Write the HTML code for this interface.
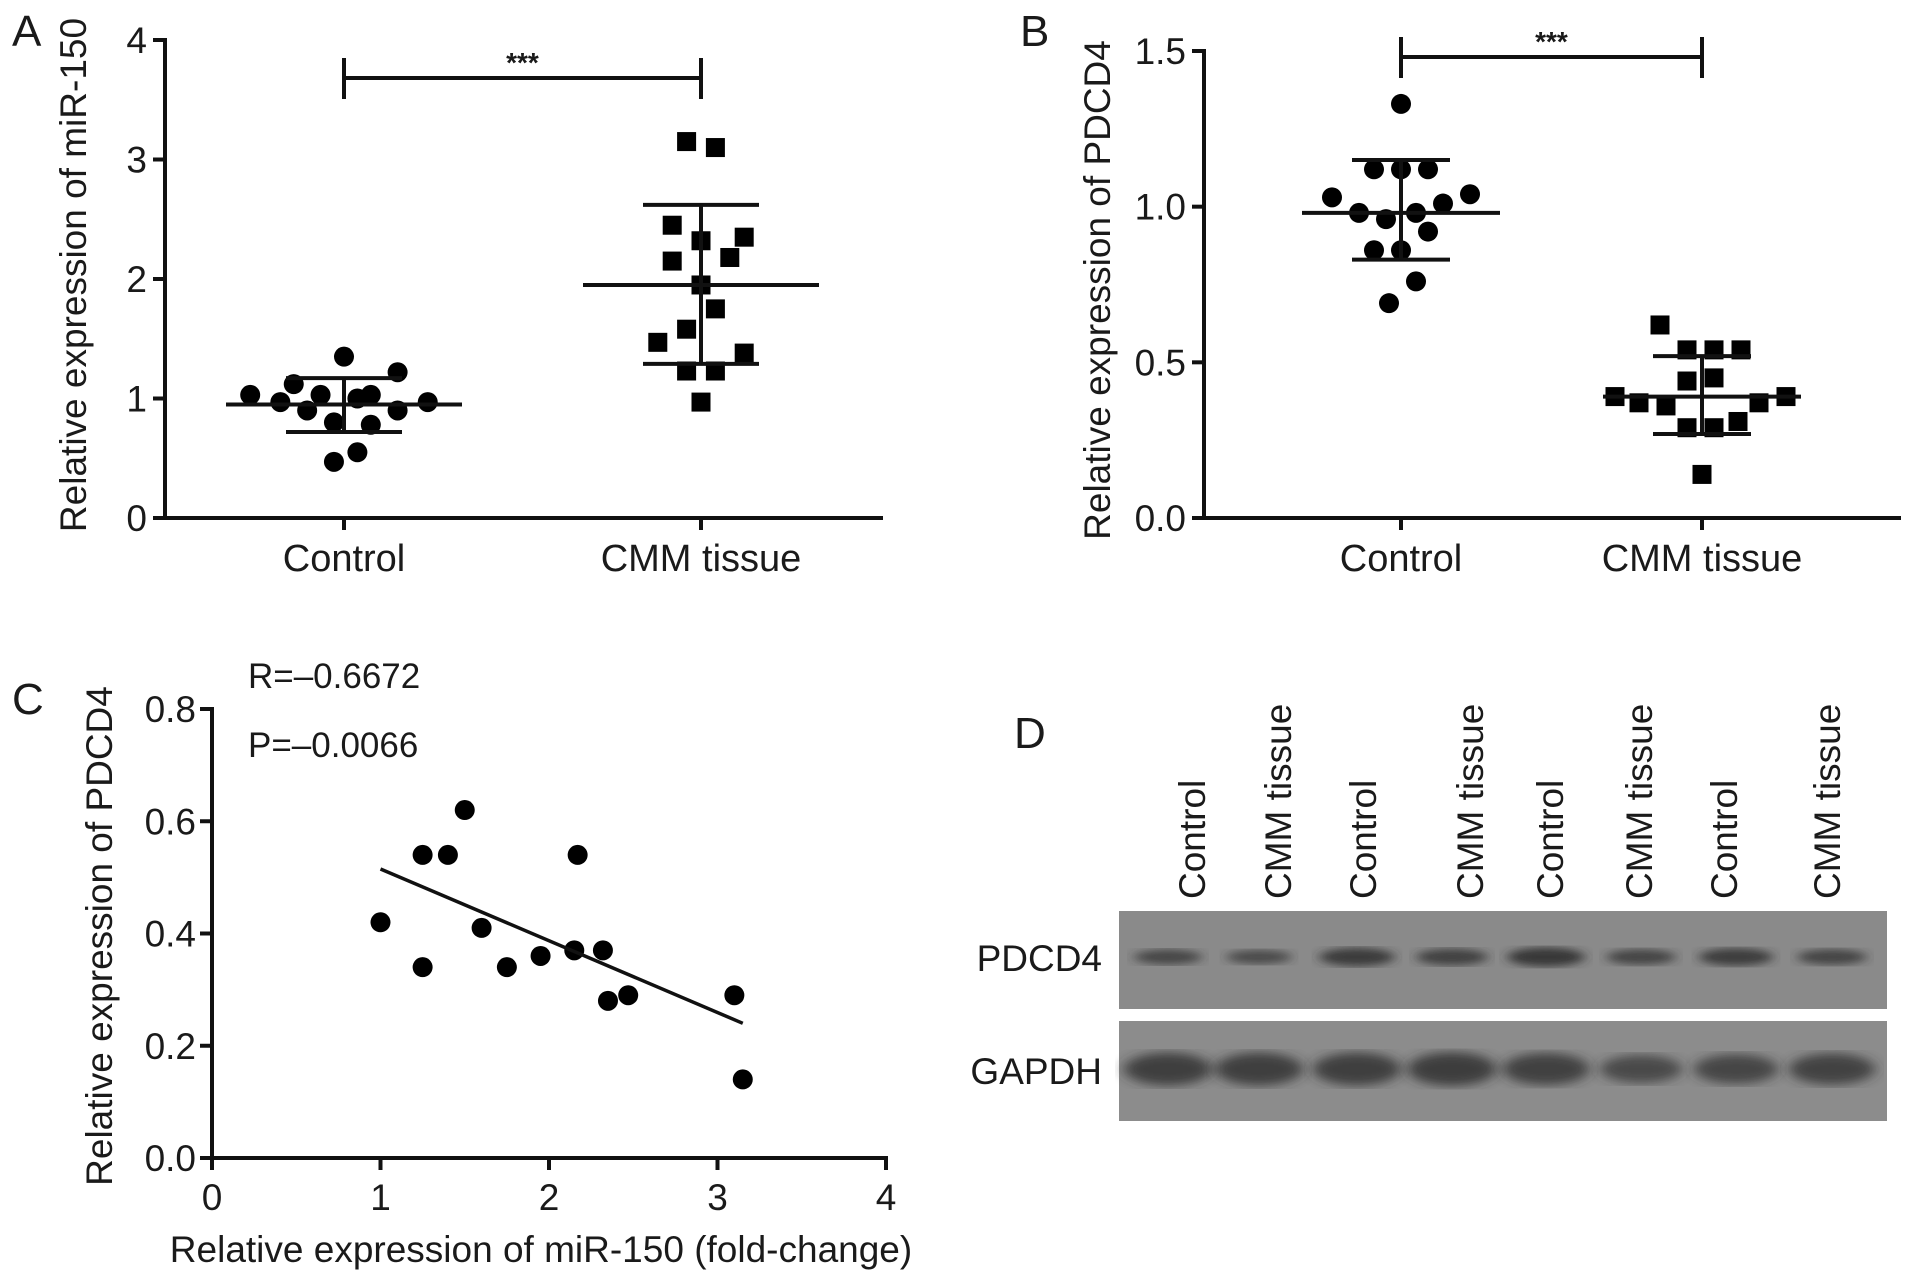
<!DOCTYPE html>
<html><head><meta charset="utf-8">
<style>
html,body{margin:0;padding:0;background:#fff;}
svg{display:block;font-family:"Liberation Sans",Arial,sans-serif;}
text{fill:#1a1a1a;}
</style></head>
<body>
<svg id="fig" width="1913" height="1277" viewBox="0 0 1913 1277">
<defs>
<filter id="blur3"><feGaussianBlur stdDeviation="7 5"/></filter>
<filter id="blur2"><feGaussianBlur stdDeviation="6 4"/></filter>
</defs>
<g id="panelA"></g>
<g id="panelB"></g>
<g id="panelC"></g>
<g id="panelD"></g>
</svg>
<script>
// ---- Panel A data ----
const aCategories = ["Control", "CMM tissue"];
const aYTicks = [0, 1, 2, 3, 4];
const aControlVals = [1.03,0.97,1.12,0.90,1.03,0.80,0.47,1.35,0.55,1.00,1.03,0.78,1.22,0.90,0.97];
const aControlJitter = [-0.28,-0.19,-0.15,-0.11,-0.07,-0.03,-0.03,0,0.04,0.04,0.08,0.08,0.16,0.16,0.25];
const aCmmVals = [3.15,3.10,2.45,2.32,2.35,2.15,2.18,1.95,1.75,1.58,1.47,1.38,1.23,1.23,0.97];
const aCmmJitter = [-0.04,0.04,-0.08,0,0.12,-0.08,0.08,0,0.04,-0.04,-0.12,0.12,-0.04,0.04,0];
const aStats = [[0.95,1.17,0.72],[1.95,2.62,1.29]];
// ---- Panel B data ----
const bCategories = ["Control", "CMM tissue"];
const bYTicks = [0.0, 0.5, 1.0, 1.5];
const bControlVals = [1.33,1.12,1.12,1.12,1.03,1.04,0.98,0.96,0.98,1.01,0.92,0.86,0.86,0.76,0.69];
const bControlJitter = [0,-0.09,0,0.09,-0.23,0.23,-0.14,-0.05,0.05,0.14,0.09,-0.09,0,0.05,-0.04];
const bCmmVals = [0.62,0.54,0.54,0.54,0.44,0.45,0.39,0.37,0.36,0.37,0.39,0.29,0.29,0.31,0.14];
const bCmmJitter = [-0.14,-0.05,0.04,0.13,-0.05,0.04,-0.29,-0.21,-0.12,0.19,0.28,-0.05,0.04,0.12,0];
const bStats = [[0.98,1.15,0.83],[0.39,0.52,0.27]];
// ---- Panel C data ----
const cXTicks = [0, 1, 2, 3, 4];
const cYTicks = [0.0, 0.2, 0.4, 0.6, 0.8];
const cX = [1.0,1.25,1.4,1.5,1.25,1.6,1.75,1.95,2.15,2.17,2.32,2.35,2.47,3.1,3.15];
const cY = [0.42,0.54,0.54,0.62,0.34,0.41,0.34,0.36,0.37,0.54,0.37,0.28,0.29,0.29,0.14];
const cFit = [[1.0,0.515],[3.15,0.24]];
// ---- Panel D data ----
const dLanes = ["Control","CMM tissue","Control","CMM tissue","Control","CMM tissue","Control","CMM tissue"];
const dPdcd4 = [0.5,0.4,0.8,0.65,0.9,0.55,0.75,0.55];
const dGapdh = [0.8,0.8,0.8,0.85,0.75,0.5,0.6,0.7];

const NS = "http://www.w3.org/2000/svg";
function mk(parent, tag, attrs, txt) {
  const e = document.createElementNS(NS, tag);
  for (const k in attrs) e.setAttribute(k, attrs[k]);
  if (txt !== undefined) e.textContent = txt;
  parent.appendChild(e);
  return e;
}
function line(p, x1, y1, x2, y2, w) { return mk(p, "line", {x1, y1, x2, y2, stroke: "#111", "stroke-width": w || 4}); }

function dotPlot(g, cfg) {
  const ymap = v => cfg.y0 + (v - cfg.ymin) / (cfg.ymax - cfg.ymin) * (cfg.y1 - cfg.y0);
  const ax = line(g, cfg.axX, cfg.y1 - 2, cfg.axX, cfg.y0 + 2);
  
  
  const xa = line(g, cfg.axX - 2, cfg.y0, cfg.axEnd, cfg.y0);
  
  
  cfg.yTicks.forEach(t => {
    const y = ymap(t);
    line(g, cfg.axX - 12, y, cfg.axX, y);
    const tx = mk(g, "text", {x: cfg.axX - 18, y: y + 13, "font-size": 37, "text-anchor": "end"}, cfg.fmt(t));
    
    
  });
  cfg.cats.forEach((c, i) => {
    line(g, cfg.catX[i], cfg.y0, cfg.catX[i], cfg.y0 + 12);
    const tx = mk(g, "text", {x: cfg.catX[i], y: cfg.y0 + 53, "font-size": 38, "text-anchor": "middle"}, c);
    
    
  });
  const yt = mk(g, "text", {x: 0, y: 0, "font-size": 37, "text-anchor": "middle", transform: `translate(${cfg.titleX},${cfg.titleY}) rotate(-90)`}, cfg.title);
  
  
  const sy = cfg.sigY;
  line(g, cfg.catX[0], sy, cfg.catX[1], sy);
  line(g, cfg.catX[0], sy - 20, cfg.catX[0], sy + 21);
  line(g, cfg.catX[1], sy - 20, cfg.catX[1], sy + 21);
  const st = mk(g, "text", {x: (cfg.catX[0] + cfg.catX[1]) / 2, y: sy - 6, "font-size": 28, "font-weight": "bold", "text-anchor": "middle"}, "***");
  
  
  cfg.series.forEach((s, i) => {
    s.vals.forEach((v, j) => {
      const x = cfg.catX[i] + s.jit[j] * cfg.jitScale[i], y = ymap(v);
      let el;
      if (s.shape === "circle") el = mk(g, "circle", {cx: x, cy: y, r: 10, fill: "#000"});
      else el = mk(g, "rect", {x: x - 9.5, y: y - 9.5, width: 19, height: 19, fill: "#000"});
      
      
    });
    const st = cfg.stats[i];
    const cx = cfg.catX[i];
    const m = line(g, cx - cfg.meanW, ymap(st[0]), cx + cfg.meanW, ymap(st[0]));
    
    
    line(g, cx - cfg.sdW, ymap(st[1]), cx + cfg.sdW, ymap(st[1]));
    line(g, cx - cfg.sdW, ymap(st[2]), cx + cfg.sdW, ymap(st[2]));
    const v = line(g, cx, ymap(st[1]), cx, ymap(st[2]));
    
    
  });
  const L = mk(g, "text", {x: cfg.letter[0], y: cfg.letter[1], "font-size": 44}, cfg.letter[2]);
  
  
}

dotPlot(document.getElementById("panelA"), {
  axX: 165, axEnd: 883, y0: 518, y1: 40, ymin: 0, ymax: 4, yTicks: aYTicks, fmt: t => String(t),
  cats: aCategories, catX: [344, 701], title: "Relative expression of miR-150", titleX: 86, titleY: 275,
  sigY: 78, jitScale: [335, 360], meanW: 118, sdW: 58, stats: aStats,
  series: [{vals: aControlVals, jit: aControlJitter, shape: "circle", name: "control"},
           {vals: aCmmVals, jit: aCmmJitter, shape: "square", name: "cmm"}],
  letter: [12, 46, "A"]
});
dotPlot(document.getElementById("panelB"), {
  axX: 1204, axEnd: 1901, y0: 518, y1: 51, ymin: 0, ymax: 1.5, yTicks: bYTicks, fmt: t => t.toFixed(1),
  cats: bCategories, catX: [1401, 1702], title: "Relative expression of PDCD4", titleX: 1110, titleY: 290,
  sigY: 57, jitScale: [300, 300], meanW: 99, sdW: 49, stats: bStats,
  series: [{vals: bControlVals, jit: bControlJitter, shape: "circle", name: "control"},
           {vals: bCmmVals, jit: bCmmJitter, shape: "square", name: "cmm"}],
  letter: [1020, 46, "B"]
});

// Panel C
(function () {
  const g = document.getElementById("panelC");
  const X0 = 212, X1 = 886, Y0 = 1158, Y1 = 709;
  const xm = v => X0 + v / 4 * (X1 - X0);
  const ym = v => Y0 + v / 0.8 * (Y1 - Y0);
  const ya = line(g, X0, Y0 + 2, X0, Y1 - 2);
  
  
  const xa = line(g, X0 - 2, Y0, X1 + 2, Y0);
  
  
  cYTicks.forEach(t => {
    line(g, X0 - 12, ym(t), X0, ym(t));
    const tx = mk(g, "text", {x: X0 - 16, y: ym(t) + 13, "font-size": 37, "text-anchor": "end"}, t.toFixed(1));
    
    
  });
  cXTicks.forEach(t => {
    line(g, xm(t), Y0, xm(t), Y0 + 12);
    const tx = mk(g, "text", {x: xm(t), y: Y0 + 52, "font-size": 37, "text-anchor": "middle"}, String(t));
    
    
  });
  cX.forEach((x, i) => {
    const c = mk(g, "circle", {cx: xm(x), cy: ym(cY[i]), r: 10, fill: "#000"});
    
    
  });
  const fl = mk(g, "line", {x1: xm(cFit[0][0]), y1: ym(cFit[0][1]), x2: xm(cFit[1][0]), y2: ym(cFit[1][1]), stroke: "#111", "stroke-width": 3.5});
  
  
  const xt = mk(g, "text", {x: 541, y: 1262, "font-size": 37, "text-anchor": "middle"}, "Relative expression of miR-150 (fold-change)");
  
  
  const yt = mk(g, "text", {x: 0, y: 0, "font-size": 37, "text-anchor": "middle", transform: "translate(112,936) rotate(-90)"}, "Relative expression of PDCD4");
  
  
  const r = mk(g, "text", {x: 248, y: 688, "font-size": 35}, "R=\u20130.6672");
  
  
  const p = mk(g, "text", {x: 248, y: 757, "font-size": 35}, "P=\u20130.0066");
  
  
  const L = mk(g, "text", {x: 12, y: 714, "font-size": 44}, "C");
  
  
})();

// Panel D
(function () {
  const g = document.getElementById("panelD");
  const laneX = [1168, 1259, 1357, 1452, 1546, 1641, 1736, 1832];
  const labelX = [1192, 1278, 1363, 1470, 1550, 1639, 1724, 1827];
  const b1 = mk(g, "rect", {x: 1119, y: 911, width: 768, height: 98, fill: "#8a8a8a"});
  
  
  const b2 = mk(g, "rect", {x: 1119, y: 1021, width: 768, height: 100, fill: "#8c8c8c"});
  
  
  dLanes.forEach((lab, i) => {
    const t = mk(g, "text", {x: 0, y: 0, "font-size": 37, "text-anchor": "start", transform: `translate(${labelX[i] + 13},899) rotate(-90)`}, lab);
    
    
    const a = dPdcd4[i];
    const e1 = mk(g, "ellipse", {cx: laneX[i], cy: 957, rx: 28 + a * 12, ry: 5 + a * 5, fill: "#2a2a2a", opacity: 0.5 + a * 0.4, filter: "url(#blur2)"});
    
    
    const b = dGapdh[i];
    const e2 = mk(g, "ellipse", {cx: laneX[i], cy: 1069, rx: 36 + b * 10, ry: 10 + b * 8, fill: "#2a2a2a", opacity: 0.5 + b * 0.35, filter: "url(#blur3)"});
    
    
  });
  const t1 = mk(g, "text", {x: 1102, y: 971, "font-size": 37, "text-anchor": "end"}, "PDCD4");
  
  
  const t2 = mk(g, "text", {x: 1102, y: 1084, "font-size": 37, "text-anchor": "end"}, "GAPDH");
  
  
  const L = mk(g, "text", {x: 1014, y: 748, "font-size": 44}, "D");
  
  
})();
</script>
</body></html>
